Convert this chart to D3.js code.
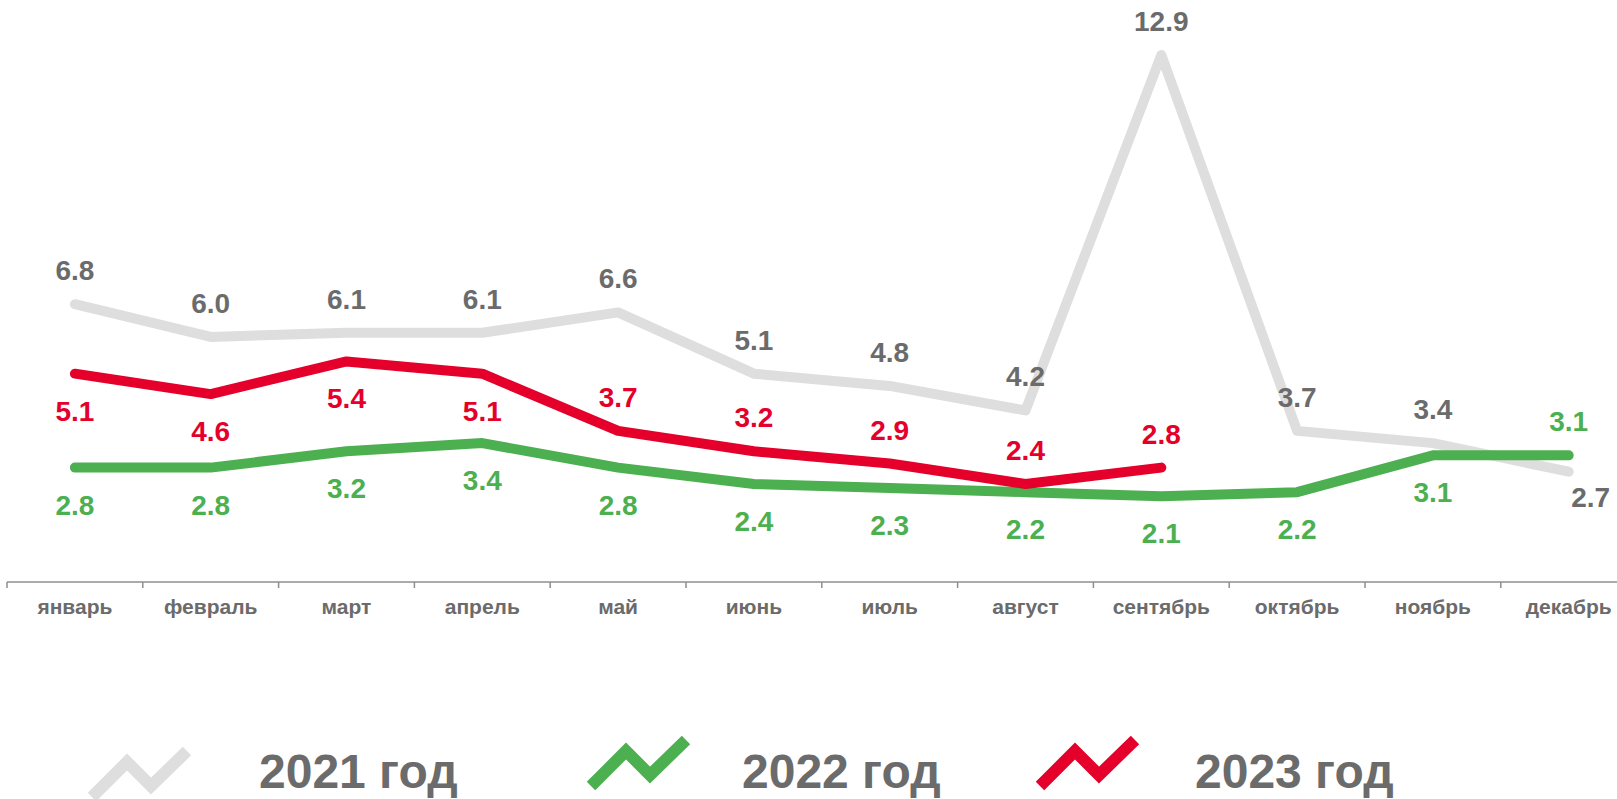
<!DOCTYPE html>
<html>
<head>
<meta charset="utf-8">
<script src="https://cdn.jsdelivr.net/npm/d3@7"></script>
<style>
  body { margin: 0; background: #fff; }
  svg { display: block; font-family: "Liberation Sans", Arial, sans-serif; }
</style>
</head>
<body>
<div class="content"></div>
<script>
var months = ["январь", "февраль", "март", "апрель", "май", "июнь", "июль", "август", "сентябрь", "октябрь", "ноябрь", "декабрь"];
var values2021 = [6.8, 6.0, 6.1, 6.1, 6.6, 5.1, 4.8, 4.2, 12.9, 3.7, 3.4, 2.7];
var values2022 = [2.8, 2.8, 3.2, 3.4, 2.8, 2.4, 2.3, 2.2, 2.1, 2.2, 3.1, 3.1];
var values2023 = [5.1, 4.6, 5.4, 5.1, 3.7, 3.2, 2.9, 2.4, 2.8];
var seriesNames = ["2021 год", "2022 год", "2023 год"];

// where each data label sits relative to its point (layout, not data)
var labelPos2021 = ["up", "up", "up", "up", "up", "up", "up", "up", "up", "up", "up", "right"];
var labelPos2022 = ["down", "down", "down", "down", "down", "down", "down", "down", "down", "down", "down", "up"];
var labelPos2023 = ["down", "down", "down", "down", "up", "up", "up", "up", "up"];

var width = 1617, height = 799;
var textGray = "#6b6b6b";

var series = [
  {name: seriesNames[0], values: values2021, pos: labelPos2021, color: "#dedede", labelColor: textGray},
  {name: seriesNames[1], values: values2022, pos: labelPos2022, color: "#4caf50", labelColor: "#4caf50"},
  {name: seriesNames[2], values: values2023, pos: labelPos2023, color: "#e4002b", labelColor: "#e4002b"}
];

var svg = d3.select(".content").append("svg")
  .attr("width", width)
  .attr("height", height);

var x = d3.scaleBand()
  .domain(months)
  .range([7, 7 + 12 * 135.8]);

var y = d3.scaleLinear()
  .domain([0, 14])
  .range([582, 582 - 14 * 40.85]);

// x axis: line, tick marks between categories, labels
svg.append("line")
  .attr("x1", x.range()[0]).attr("x2", width)
  .attr("y1", y(0)).attr("y2", y(0))
  .attr("stroke", "#8f8f8f").attr("stroke-width", 1.5);

svg.selectAll(".tick-mark")
  .data(d3.range(13))
  .enter().append("line")
    .attr("class", "tick-mark")
    .attr("x1", function(d) {return x.range()[0] + d * x.step()})
    .attr("x2", function(d) {return x.range()[0] + d * x.step()})
    .attr("y1", y(0))
    .attr("y2", y(0) + 6)
    .attr("stroke", "#8f8f8f").attr("stroke-width", 1.5);

svg.selectAll(".month")
  .data(months)
  .enter().append("text")
    .attr("class", "month")
    .attr("x", function(d) {return x(d) + x.bandwidth() / 2})
    .attr("y", 614)
    .attr("text-anchor", "middle")
    .attr("font-size", 21)
    .attr("font-weight", "bold")
    .attr("fill", textGray)
    .text(function(d) {return d});

// lines
var line = d3.line()
  .x(function(d, i) {return x(months[i]) + x.bandwidth() / 2})
  .y(function(d) {return y(d)});

svg.selectAll(".series")
  .data(series)
  .enter().append("path")
    .attr("class", "series")
    .attr("d", function(s) {return line(s.values)})
    .attr("fill", "none")
    .attr("stroke", function(s) {return s.color})
    .attr("stroke-width", 10)
    .attr("stroke-linecap", "round")
    .attr("stroke-linejoin", "round");

// data labels
series.forEach(function(s) {
  svg.selectAll(null)
    .data(s.values)
    .enter().append("text")
      .attr("x", function(d, i) {
        var cx = x(months[i]) + x.bandwidth() / 2;
        return s.pos[i] === "right" ? cx + 22 : cx;
      })
      .attr("y", function(d, i) {
        var p = s.pos[i];
        if (p === "up") return y(d) - 24;
        if (p === "right") return y(d) + 35;
        return y(d) + 47;
      })
      .attr("text-anchor", "middle")
      .attr("font-size", 28)
      .attr("font-weight", "bold")
      .attr("fill", s.labelColor)
      .text(function(d) {return d.toFixed(1)});
});

// legend
var legendSymbolX = [92, 591, 1040];
var legendSymbolY = [797, 786, 786];
var legendTextX = [259, 742, 1195];
var zig = [[0, 0], [35, -35], [59, -11], [95, -46]];

var legend = svg.selectAll(".legend")
  .data(series)
  .enter().append("g")
    .attr("class", "legend");

legend.append("path")
  .attr("d", function(s, i) {
    return d3.line()(zig.map(function(p) {return [legendSymbolX[i] + p[0], legendSymbolY[i] + p[1]]}));
  })
  .attr("fill", "none")
  .attr("stroke", function(s) {return s.color})
  .attr("stroke-width", 12)
  .attr("stroke-linejoin", "miter");

legend.append("text")
  .attr("x", function(s, i) {return legendTextX[i]})
  .attr("y", 788)
  .attr("font-size", 48)
  .attr("font-weight", "bold")
  .attr("fill", textGray)
  .text(function(s) {return s.name});
</script>
</body>
</html>
